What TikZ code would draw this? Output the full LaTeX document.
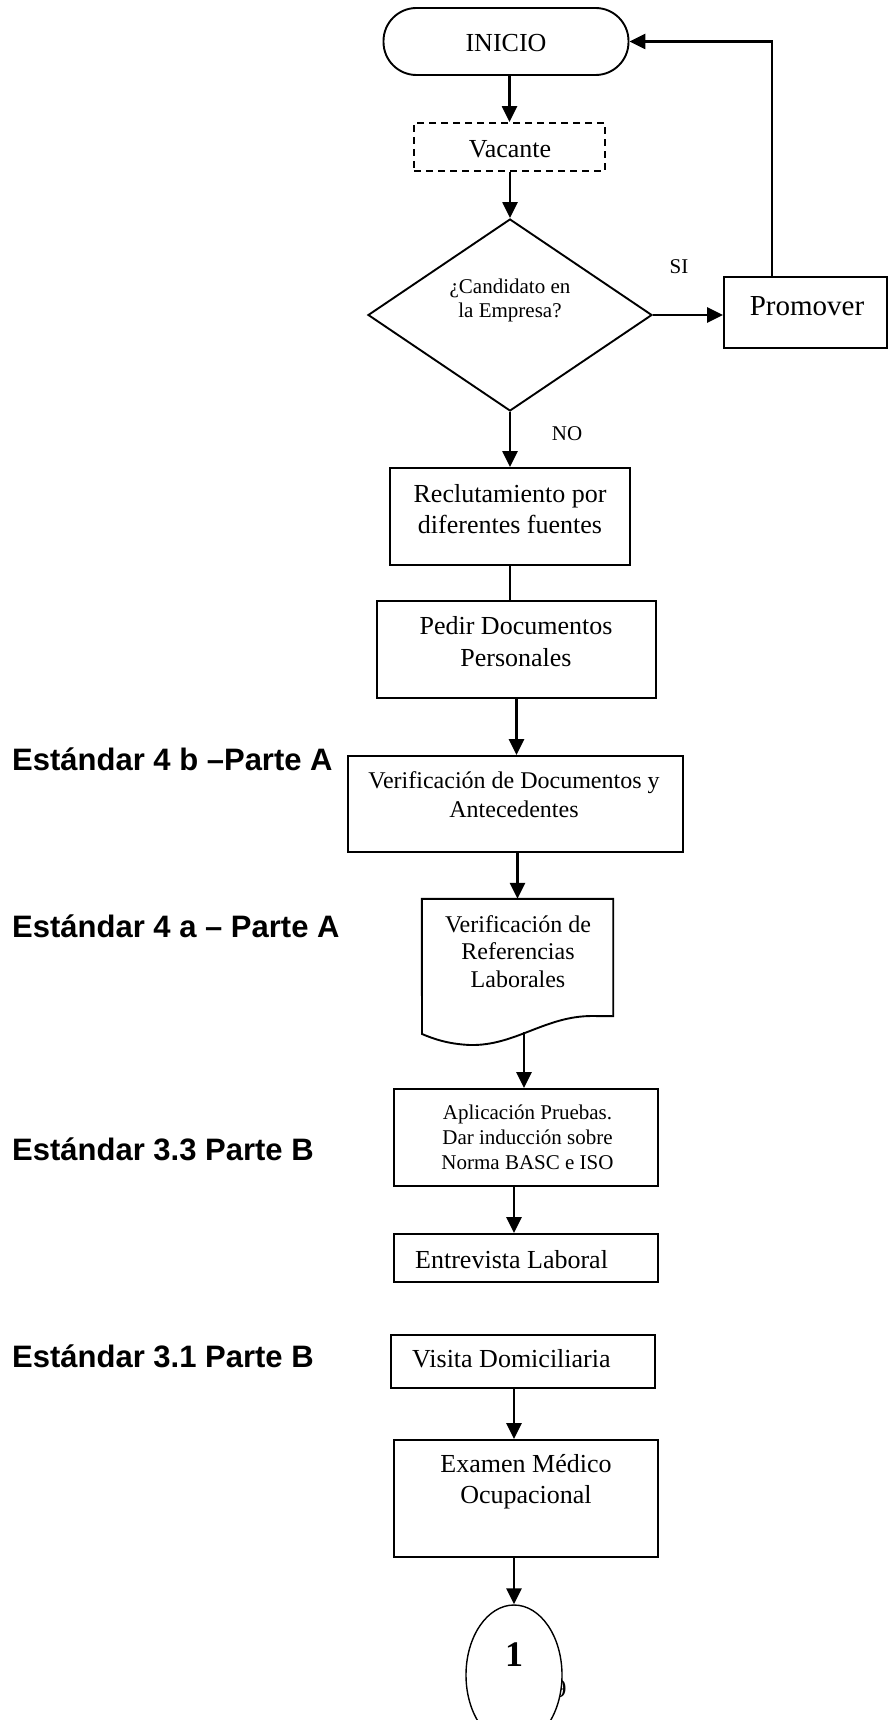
\documentclass[tikz,border=0pt]{standalone}
\usepackage{fontspec}
\setmainfont{Liberation Serif}
\newfontfamily\labelsans{Liberation Sans}
\usetikzlibrary{arrows.meta,shapes.geometric}

\begin{document}
\begin{tikzpicture}[x=1pt,y=-1pt,
  box/.style={draw,rectangle,line width=1.9pt,inner sep=0pt},
  conn/.style={line width=2.5pt},
  arr/.style={conn,-{Triangle[length=16pt,width=15pt]}},
  fs/.style 2 args={font=\fontsize{#1}{#2}\selectfont},
  txt/.style={inner sep=0pt,align=center},
  tag/.style={inner sep=0pt,anchor=base west,font=\labelsans\bfseries\fontsize{31}{36}\selectfont}
]
\useasboundingbox (0,0) rectangle (888,1720);
\fill[white] (0,0) rectangle (888,1720);

% start terminal
\node[box,rounded corners=33pt,minimum width=245pt,minimum height=67pt] (ini) at (506,41.5) {};
\node[txt,fs={26}{31},anchor=base] (tini) at (506,52) {INICIO};

% vacancy (dashed)
\node[box,dashed,dash pattern=on 7pt off 5pt,minimum width=191pt,minimum height=48pt] (vac) at (509.5,147) {};
\node[txt,fs={26}{31},anchor=base] (tvac) at (510,158) {Vacante};

% decision
\node[draw,diamond,line width=1.9pt,inner sep=0pt,minimum width=284pt,minimum height=192pt] (dia) at (510,315) {};
\node[txt,fs={21}{24}] (tdia) at (510,300) {¿Candidato en\\la Empresa?};
\node[txt,fs={21}{24},anchor=base] (tsi) at (679,273) {SI};
\node[txt,fs={21}{24},anchor=base] (tno) at (567,440) {NO};

% promotion branch
\node[box,minimum width=163pt,minimum height=71pt] (prom) at (805.5,312.5) {};
\node[txt,fs={29}{34},anchor=base] (tprom) at (807,315) {Promover};
\coordinate (ret) at (772,41.5);

% recruitment steps
\node[box,minimum width=240pt,minimum height=97pt] (rec) at (510,516.5) {};
\node[txt,fs={26}{31}] (trec) at (510,509.6) {Reclutamiento por\\diferentes fuentes};

\node[box,minimum width=279pt,minimum height=97pt] (ped) at (516.5,649.5) {};
\node[txt,fs={26}{32}] (tped) at (516,642) {Pedir Documentos\\Personales};

\node[box,minimum width=335pt,minimum height=96pt] (ver) at (515.5,804) {};
\node[txt,fs={24}{29}] (tver) at (514,794.3) {Verificación de Documentos y\\Antecedentes};

% document shape
\node[inner sep=0pt,minimum width=191pt,minimum height=117pt] (doc) at (517.5,957.5) {};
\draw[line width=1.9pt] (doc.north west) -- (doc.north east) -- (doc.south east) -- (592,1016)
  .. controls (545,1016) and (515,1046) .. (470,1045)
  .. controls (448,1044) and (434,1039) .. (422,1034) -- cycle;
\node[txt,fs={24}{27.5}] (tdoc) at (518,951.5) {Verificación de\\Referencias\\Laborales};
\coordinate (docout) at (524,1032);

\node[box,minimum width=264pt,minimum height=97pt] (apl) at (526,1137.5) {};
\node[txt,fs={21}{25}] (tapl) at (527.5,1137) {Aplicación Pruebas.\\Dar inducción sobre\\Norma BASC e ISO};

\node[box,minimum width=264pt,minimum height=48pt] (ent) at (526,1258) {};
\node[txt,fs={26}{31},anchor=base west] (tent) at (415,1268) {Entrevista Laboral};

\node[box,minimum width=264pt,minimum height=53pt] (vis) at (523,1361.5) {};
\node[txt,fs={26}{31},anchor=base west] (tvis) at (412,1367) {Visita Domiciliaria};

\node[box,minimum width=264pt,minimum height=117pt] (exa) at (526,1498.5) {};
\node[txt,fs={26}{31}] (texa) at (526,1481.4) {Examen Médico\\Ocupacional};

% page number under the connector
\node[txt,fs={26}{31},anchor=base] (pg) at (560,1697) {9};
\node[draw,ellipse,fill=white,line width=1.4pt,inner sep=0pt,minimum width=96pt,minimum height=140pt] (con) at (514,1675) {};
\node[txt,font={\fontsize{36}{40}\selectfont\bfseries},anchor=base] (tcon) at (514,1666) {1};

% standard labels
\node[tag] (s4b) at (12,770) {Estándar 4 b –Parte A};
\node[tag] (s4a) at (12,937) {Estándar 4 a – Parte A};
\node[tag] (s33) at (12,1160) {Estándar 3.3 Parte B};
\node[tag] (s31) at (12,1367) {Estándar 3.1 Parte B};

% connectors
\draw[arr] (vac.north |- ini.south) -- (vac.north);
\draw[arr] (dia.north |- vac.south) -- (dia.north);
\draw[arr] (dia.east) -- (dia.east -| prom.west);
\draw[arr] (ret |- prom.north) -- (ret) -- (ini.east);
\draw[arr] (dia.south) -- (rec.north);
\draw[conn] (rec.south) -- (rec.south |- ped.north);
\draw[arr] (ped.south) -- (ped.south |- ver.north);
\draw[arr] (doc.north |- ver.south) -- (doc.north);
\draw[arr] (docout) -- (docout |- apl.north);
\draw[arr] ([xshift=-12pt]apl.south) -- ([xshift=-12pt]apl.south |- ent.north);
\draw[arr] ([xshift=-9pt]vis.south) -- ([xshift=-9pt]vis.south |- exa.north);
\draw[arr] (con.north |- exa.south) -- (con.north);
\end{tikzpicture}
\end{document}
